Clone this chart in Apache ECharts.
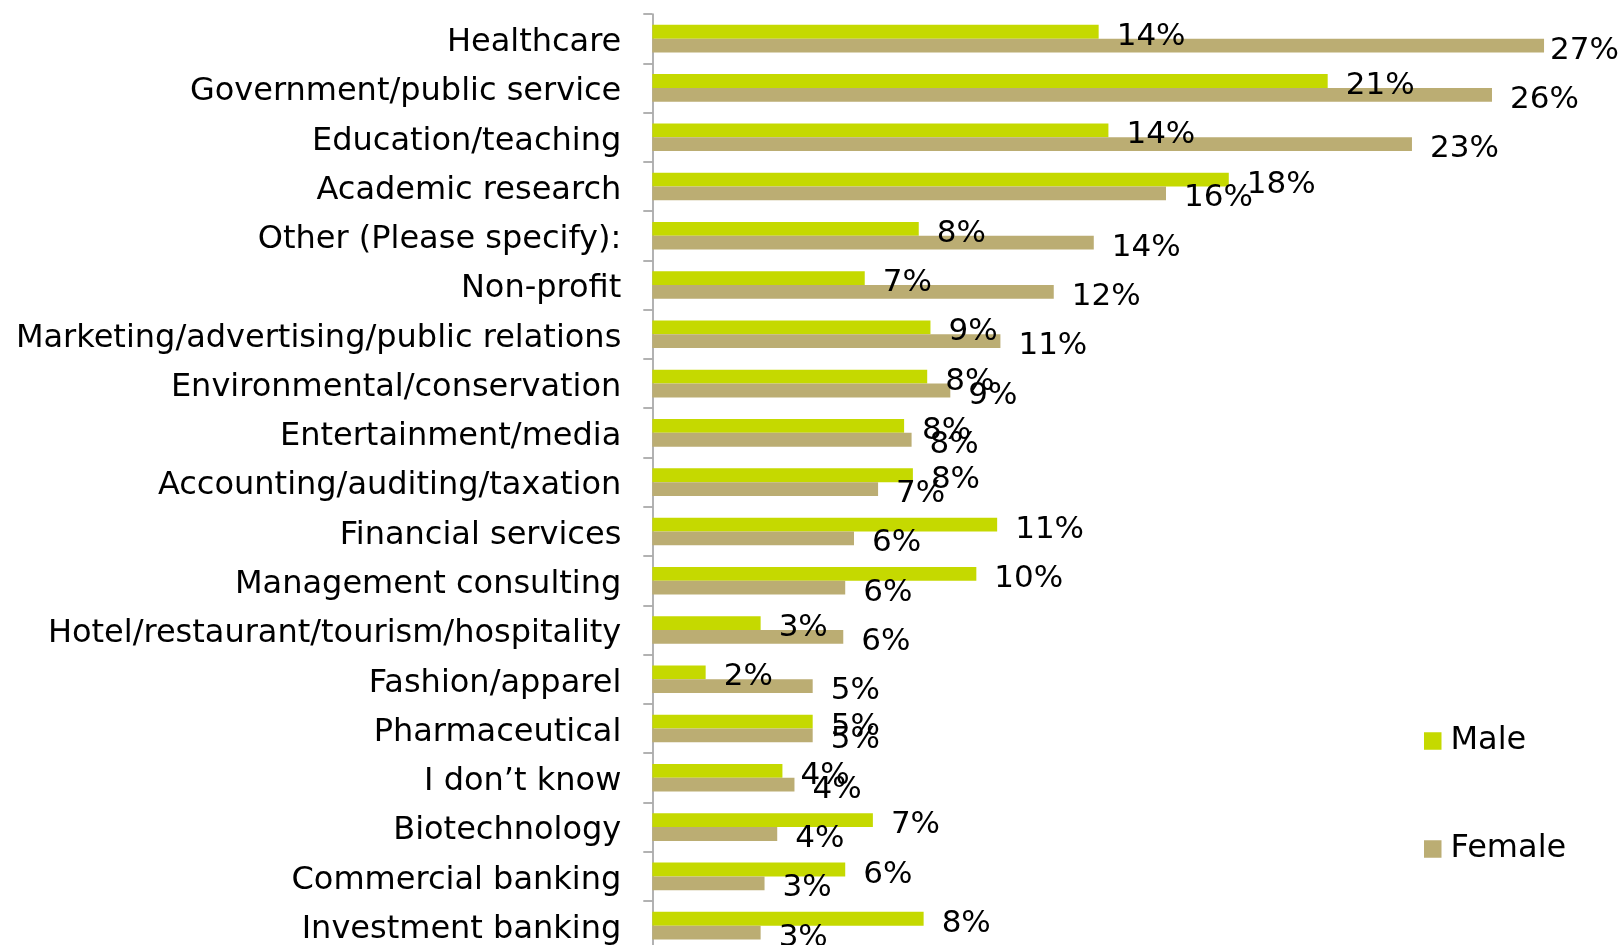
<!DOCTYPE html>
<html>
<head>
<meta charset="utf-8">
<script src="https://cdn.jsdelivr.net/npm/echarts@6/dist/echarts.min.js"></script>
<style>
  html, body { margin: 0; padding: 0; background: #ffffff; }
  #chart { width: 1624px; height: 945px; }
</style>
</head>
<body>
<div id="chart"></div>
<script>
// Industry of interest by gender (share of respondents, %)
const categories = [
  'Healthcare',
  'Government/public service',
  'Education/teaching',
  'Academic research',
  'Other (Please specify):',
  'Non-profit',
  'Marketing/advertising/public relations',
  'Environmental/conservation',
  'Entertainment/media',
  'Accounting/auditing/taxation',
  'Financial services',
  'Management consulting',
  'Hotel/restaurant/tourism/hospitality',
  'Fashion/apparel',
  'Pharmaceutical',
  'I don\u2019t know',
  'Biotechnology',
  'Commercial banking',
  'Investment banking'
];
const maleValues = [13.72, 20.76, 14.02, 17.72, 8.19, 6.53, 8.55, 8.45, 7.74, 8.01, 10.60, 9.96, 3.33, 1.64, 4.93, 4.00, 6.78, 5.93, 8.34];
const femaleValues = [27.41, 25.81, 23.35, 15.79, 13.57, 12.34, 10.70, 9.16, 7.97, 6.94, 6.20, 5.93, 5.87, 4.93, 4.93, 4.37, 3.84, 3.45, 3.33];
const seriesNames = ['Male', 'Female'];

const FONT = '"DejaVu Sans", Verdana, sans-serif';
const colors = ['#c5d900', '#bbad73'];
const chartWidth = 1624;

const chart = echarts.init(document.getElementById('chart'), null, { renderer: 'canvas' });

function barSeries(name, values, color) {
  return {
    name: name,
    type: 'bar',
    data: values,
    barWidth: 13.8,
    barGap: '0%',
    itemStyle: { color: color },
    label: {
      show: true,
      position: 'right',
      distance: 18,
      color: '#000000',
      fontFamily: FONT,
      fontSize: 31,
      formatter: p => Math.round(p.value) + '%'
    },
    // nudge value labels down a little and keep them inside the right edge
    labelLayout: function (params) {
      const r = params.labelRect;
      const out = { dy: 5 };
      const limit = chartWidth - 5;
      if (r.x + r.width > limit) {
        out.dx = limit - (r.x + r.width);
      }
      return out;
    },
    animation: false
  };
}

chart.setOption({
  backgroundColor: '#ffffff',
  animation: false,
  color: colors,
  grid: {
    left: 652.3, width: 976, top: 14, height: 936.3,
    containLabel: false,
    outerBoundsMode: 'none'
  },
  legend: {
    orient: 'vertical',
    left: 1424,
    top: 725,
    padding: 0,
    icon: 'rect',
    itemWidth: 17.5,
    itemHeight: 17.5,
    itemGap: 76,
    data: seriesNames,
    textStyle: { fontFamily: FONT, fontSize: 32, color: '#000000', lineHeight: 32, padding: [0, 0, 0, 4] }
  },
  xAxis: {
    type: 'value',
    min: 0,
    max: 30,
    show: false,
    splitLine: { show: false }
  },
  yAxis: {
    type: 'category',
    data: categories,
    inverse: true,
    axisLine: { show: true, lineStyle: { color: '#999999', width: 1.5 } },
    axisTick: { show: true, length: 9, lineStyle: { color: '#999999', width: 1.5 } },
    axisLabel: {
      margin: 31,
      formatter: v => '{c|' + v + '}',
      rich: {
        c: {
          fontFamily: FONT,
          fontSize: 32,
          color: '#000000',
          padding: [8, 0, 0, 0]
        }
      }
    }
  },
  series: [
    barSeries(seriesNames[0], maleValues, colors[0]),
    barSeries(seriesNames[1], femaleValues, colors[1])
  ]
});
</script>
</body>
</html>
